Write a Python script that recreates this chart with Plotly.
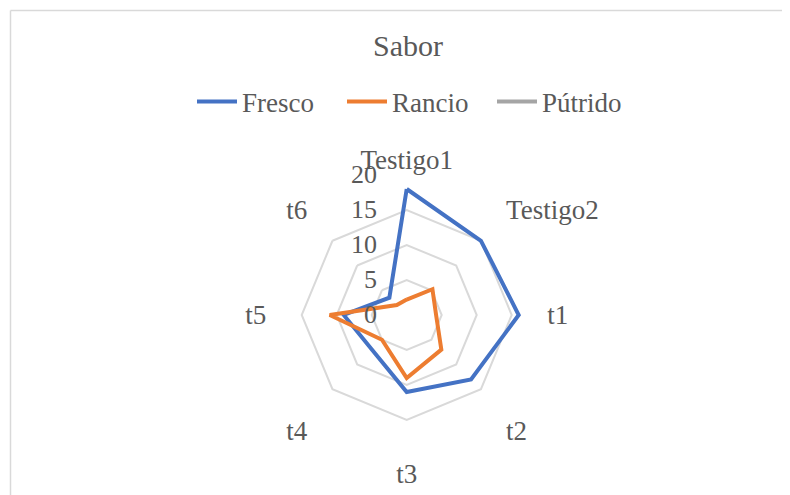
import plotly.graph_objects as go

categories = ["Testigo1", "Testigo2", "t1", "t2", "t3", "t4", "t5", "t6"]
fresco = [18, 15, 16, 13, 11, 7, 9, 3.5]
rancio = [2.2, 5.2, 4.2, 7, 9, 5, 11, 2]
putrido = [0, 0, 0, 0, 0, 0, 0, 0]
radial_ticks = [0, 5, 10, 15, 20]

OFF = 8  # page body margin
W, H = 790 - OFF, 495 - OFF
cx, cy, R = 406.7 - OFF, 315 - OFF, 140
FONT = "Liberation Serif, Times New Roman, serif"
GRAY_TXT = "#595959"

def px_y(p):
    return 1 - (p - OFF) / H

def px_x(p):
    return (p - OFF) / W

fig = go.Figure()
for name, vals, col in [("Fresco", fresco, "#4472C4"),
                        ("Rancio", rancio, "#ED7D31"),
                        ("Pútrido", putrido, "#A5A5A5")]:
    fig.add_trace(go.Scatterpolar(
        r=vals + vals[:1], theta=categories + categories[:1],
        mode="lines", name=name,
        line=dict(color=col, width=4, shape="linear"),
    ))

fig.update_layout(
    width=W, height=H,
    margin=dict(l=0, r=0, t=0, b=0),
    paper_bgcolor="white", plot_bgcolor="white",
    font=dict(family=FONT, color=GRAY_TXT, size=24),
    title=dict(text="Sabor", x=px_x(408), xanchor="center", y=px_y(45), yanchor="middle",
               font=dict(family=FONT, size=30, color=GRAY_TXT)),
    legend=dict(orientation="h", x=px_x(192), xanchor="left", y=px_y(102), yanchor="middle",
                font=dict(family=FONT, size=27, color=GRAY_TXT),
                itemwidth=40, tracegroupgap=0, entrywidth=95),
    polar=dict(
        domain=dict(x=[(cx - R) / W, (cx + R) / W], y=[1 - (cy + R) / H, 1 - (cy - R) / H]),
        bgcolor="white",
        gridshape="linear",
        radialaxis=dict(range=[0, 20], tickvals=radial_ticks, angle=90, tickangle=90,
                        showline=False, gridcolor="#D9D9D9", gridwidth=1.5,
                        ticks="outside", ticklen=20, tickcolor="rgba(0,0,0,0)",
                        side="counterclockwise",
                        tickfont=dict(family=FONT, size=26, color=GRAY_TXT)),
        angularaxis=dict(direction="clockwise", rotation=90, showgrid=False,
                         showline=False, ticks="",
                         tickfont=dict(family=FONT, size=27, color=GRAY_TXT)),
    ),
    shapes=[
        dict(type="line", xref="paper", yref="paper", x0=px_x(10.5), x1=1, y0=px_y(10.5), y1=px_y(10.5),
             line=dict(color="#D9D9D9", width=1.5)),
        dict(type="line", xref="paper", yref="paper", x0=px_x(10.5), x1=px_x(10.5), y0=0, y1=px_y(10.5),
             line=dict(color="#D9D9D9", width=1.5)),
    ],
)

fig.write_html("out.html")
